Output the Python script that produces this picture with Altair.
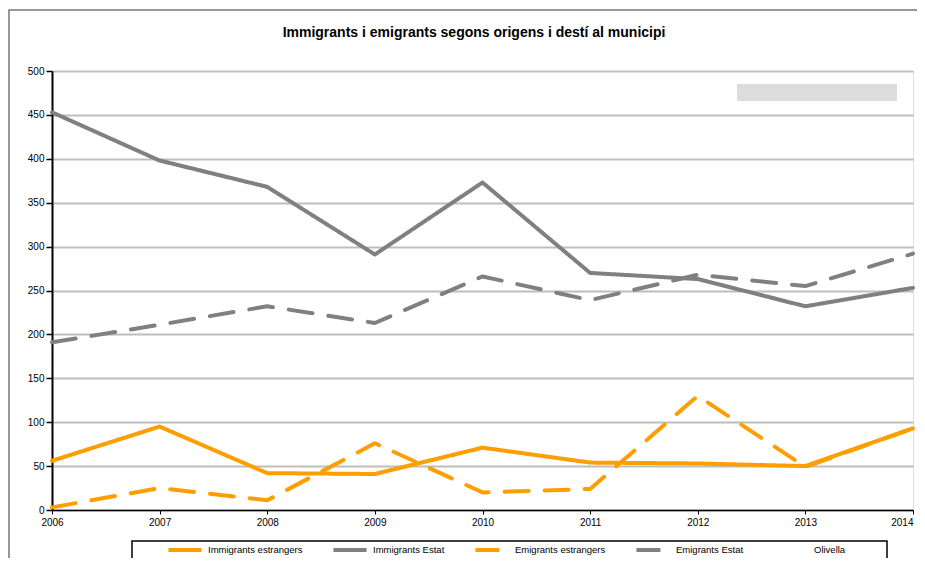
import altair as alt
import pandas as pd

years = [2006, 2007, 2008, 2009, 2010, 2011, 2012, 2013, 2014]
series_names = ["Immigrants estrangers", "Immigrants Estat", "Emigrants estrangers", "Emigrants Estat", "Olivella"]
immigrants_estrangers = [56, 95, 42, 41, 71, 54, 53, 50, 93]
immigrants_estat = [453, 398, 368, 291, 373, 270, 263, 232, 253]
emigrants_estrangers = [3, 25, 11, 76, 20, 24, 130, 49, 93]
emigrants_estat = [191, 211, 232, 213, 266, 239, 268, 255, 292]
y_ticks = [0, 50, 100, 150, 200, 250, 300, 350, 400, 450, 500]
title_text = "Immigrants i emigrants segons origens i destí al municipi"

rows = []
for name, vals in zip(series_names[:4], [immigrants_estrangers, immigrants_estat, emigrants_estrangers, emigrants_estat]):
    for yr, v in zip(years, vals):
        rows.append({"year": yr, "value": v, "serie": name})
df = pd.DataFrame(rows)

FONT = "Liberation Sans"
W, H = 861, 439

legend = alt.Legend(title=None, orient="none", legendX=114, legendY=460,
                    direction="horizontal", symbolType="stroke",
                    symbolStrokeWidth=4, symbolSize=1100, labelFont=FONT,
                    labelFontSize=9.5, labelColor="black", labelOffset=4,
                    columnPadding=22, labelLimit=200)

lines = alt.Chart(df).mark_line(strokeWidth=4, strokeCap="round", strokeJoin="round").encode(
    x=alt.X("year:Q", scale=alt.Scale(domain=[2006, 2014], nice=False),
            axis=alt.Axis(values=years, format="d", title=None, grid=False, domainColor="black",
                          domainWidth=1.5, tickColor="black", tickSize=4, labelFont=FONT,
                          labelFontSize=10, labelColor="black", labelPadding=3, labelFlush=False,
                          labelAlign=alt.expr("datum.value == 2014 ? 'right' : 'center'"))),
    y=alt.Y("value:Q", scale=alt.Scale(domain=[0, 500], nice=False),
            axis=alt.Axis(values=y_ticks, title=None, grid=True, gridColor="#bdbdbd", gridWidth=2,
                          domainColor="black", domainWidth=2, tickColor="black", tickSize=6,
                          tickWidth=1.5, labelFont=FONT, labelFontSize=10, labelColor="black",
                          labelPadding=2)),
    stroke=alt.Stroke("serie:N", scale=alt.Scale(domain=series_names,
                      range=["#FF9E00", "#808080", "#FF9E00", "#808080", "#ffffff"]),
                      legend=legend),
    strokeDash=alt.StrokeDash("serie:N", scale=alt.Scale(domain=series_names,
                              range=[[1, 0], [1, 0], [24, 16], [24, 16], [1, 0]]),
                              legend=legend),
    order=alt.Order("year:Q"),
)

one = pd.DataFrame({"t": [title_text]})

frame = alt.Chart(one).mark_rect(fillOpacity=0, stroke="#777777", strokeWidth=1.5).encode(
    x=alt.value(-43), x2=alt.value(W + 60), y=alt.value(-61), y2=alt.value(H + 200)
)
legend_box = alt.Chart(one).mark_rect(fillOpacity=0, stroke="black", strokeWidth=1.5).encode(
    x=alt.value(80), x2=alt.value(835), y=alt.value(470), y2=alt.value(H + 120)
)
gray_box = alt.Chart(one).mark_rect(fill="#dcdcdc").encode(
    x=alt.value(685), x2=alt.value(845), y=alt.value(13), y2=alt.value(30)
)
title = alt.Chart(one).mark_text(font=FONT, fontSize=14, fontWeight="bold", color="black",
                                 align="center", baseline="middle").encode(
    text="t:N", x=alt.value(422), y=alt.value(-38)
)

chart = alt.layer(frame, legend_box, gray_box, title, lines).properties(
    width=W, height=H,
    padding={"left": 44, "top": 63, "right": 4, "bottom": 48},
    autosize=alt.AutoSizeParams(type="none"),
).configure_view(stroke="#bdbdbd", strokeWidth=2).configure(background="white")

chart.save("out.html", embed_options={"renderer": "svg", "actions": False})
